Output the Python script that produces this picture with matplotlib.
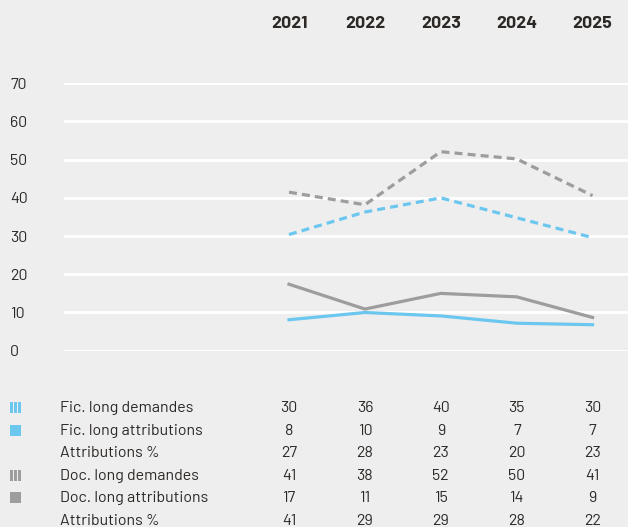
import matplotlib
matplotlib.use("Agg")
import matplotlib.pyplot as plt
import matplotlib.transforms as mtransforms
from matplotlib.patches import Rectangle

BG = "#eeeeee"
INK = "#2b2826"
BLUE = "#6cc7ef"
GREY = "#9d9d9d"

years = ["2021", "2022", "2023", "2024", "2025"]

# values
fic_dem_line = [30.4, 36.3, 40.0, 34.8, 29.6]
fic_att_line = [8.1, 10.0, 9.1, 7.2, 6.8]
doc_dem_line = [41.5, 38.2, 52.1, 50.2, 40.6]
doc_att_line = [17.4, 10.9, 15.0, 14.1, 8.7]

# table below the chart
row_labels = ["Fic. long demandes", "Fic. long attributions", "Attributions %",
              "Doc. long demandes", "Doc. long attributions", "Attributions %"]
fic_dem = [30, 36, 40, 35, 30]
fic_att = [8, 10, 9, 7, 7]
fic_pct = [27, 28, 23, 20, 23]
doc_dem = [41, 38, 52, 50, 41]
doc_att = [17, 11, 15, 14, 9]
doc_pct = [41, 29, 29, 28, 22]
table = [fic_dem, fic_att, fic_pct, doc_dem, doc_att, doc_pct]

plt.rcParams["font.family"] = ["Barlow", "DejaVu Sans"]

W, H = 628, 527
fig = plt.figure(figsize=(W / 100, H / 100), dpi=100)
fig.patch.set_facecolor(BG)

# axes: left 64px .. right 628px, 70 at y=83.3, 0 at y=350.7
ax = fig.add_axes([64 / W, 1 - 350.7 / H, (628 - 64) / W, (350.7 - 83.3) / H])
ax.set_facecolor(BG)
x = list(range(len(years)))
ax.set_xlim(-2.965, 4.467)
ax.set_ylim(0, 70)
for s in ax.spines.values():
    s.set_visible(False)
ax.set_yticks(range(0, 80, 10))
ax.grid(axis="y", color="white", lw=2)
ax.set_axisbelow(True)
ax.set_xticks([])
ax.tick_params(axis="y", length=0, pad=38.9, labelsize=11.5, labelcolor=INK)
for lbl in ax.get_yticklabels():
    lbl.set_horizontalalignment("left")

dash = (0, (2.5, 1.6))
ax.plot(x, doc_dem_line, color=GREY, lw=2.3, ls=dash, clip_on=False)
ax.plot(x, fic_dem_line, color=BLUE, lw=2.3, ls=dash, clip_on=False)
ax.plot(x, doc_att_line, color=GREY, lw=2.3, clip_on=False)
ax.plot(x, fic_att_line, color=BLUE, lw=2.3, clip_on=False)

# year headers and table columns share the data x positions
trans = mtransforms.blended_transform_factory(ax.transData, fig.transFigure)
for i, yr in enumerate(years):
    ax.text(i, 1 - 23.5 / H, yr, transform=trans, ha="center", va="center",
            fontsize=12.8, fontweight="bold", color=INK)

row_y = [407, 430, 452, 475, 497, 520]
for r, (lab, vals) in enumerate(zip(row_labels, table)):
    yf = 1 - (row_y[r] + 1.2) / H
    fig.text(60 / W, yf, lab, ha="left", va="center", fontsize=11.5, color=INK)
    for i, v in enumerate(vals):
        ax.text(i, yf, str(v), transform=trans, ha="center", va="center",
                fontsize=11.5, color=INK)

# legend icons
def striped(yc, color):
    for k in range(3):
        fig.patches.append(Rectangle(((10 + k * 4) / W, 1 - (yc + 5.5) / H),
                                     2.6 / W, 11 / H, transform=fig.transFigure,
                                     color=color, lw=0))

def square(yc, color):
    fig.patches.append(Rectangle((10 / W, 1 - (yc + 5.5) / H), 11 / W, 11 / H,
                                 transform=fig.transFigure, color=color, lw=0))

striped(row_y[0], BLUE)
square(row_y[1], BLUE)
striped(row_y[3], GREY)
square(row_y[4], GREY)

fig.savefig("out.png", facecolor=BG)
